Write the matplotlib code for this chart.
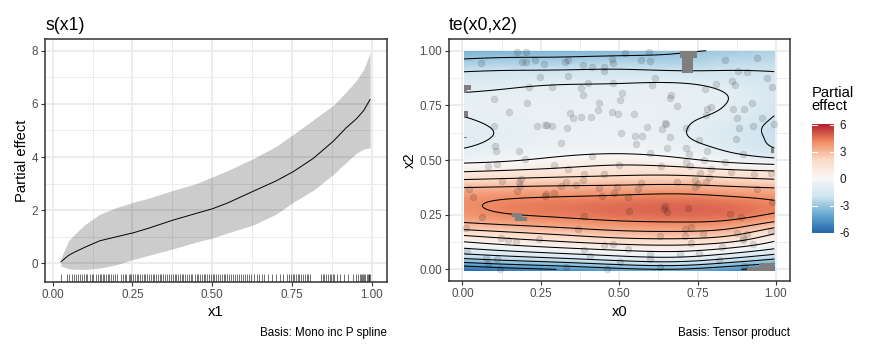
import numpy as np
import matplotlib
matplotlib.use('Agg')
import matplotlib.pyplot as plt
from matplotlib.colors import LinearSegmentedColormap, Normalize
from matplotlib.patches import Rectangle

plt.rcParams['font.family'] = ['Liberation Sans', 'DejaVu Sans']

# ---- s(x1): fitted smooth with credible band ----
x1 = [0.026, 0.05, 0.065, 0.1, 0.148, 0.2, 0.253, 0.3, 0.378, 0.45, 0.5,
      0.55, 0.63, 0.7, 0.754, 0.817, 0.88, 0.92, 0.953, 0.975, 0.995]
fit = [0.06, 0.3, 0.4, 0.6, 0.85, 1.0, 1.15, 1.32, 1.63, 1.88, 2.05,
       2.28, 2.72, 3.1, 3.45, 3.95, 4.6, 5.1, 5.45, 5.75, 6.17]
upper = [0.2, 0.85, 1.05, 1.45, 1.85, 2.1, 2.3, 2.45, 2.75, 3.0, 3.25,
         3.5, 3.95, 4.4, 4.85, 5.4, 5.95, 6.45, 6.9, 7.3, 7.92]
lower = [-0.1, -0.2, -0.22, -0.23, -0.18, -0.05, 0.15, 0.3, 0.55, 0.8, 0.95,
         1.15, 1.45, 1.85, 2.3, 2.75, 3.35, 3.8, 4.15, 4.3, 4.35]

rug_x1 = [0.026, 0.044, 0.051, 0.060, 0.066, 0.072, 0.079, 0.086, 0.093, 0.099,
          0.104, 0.109, 0.116, 0.122, 0.128, 0.135, 0.141, 0.147, 0.152, 0.158,
          0.161, 0.167, 0.173, 0.178, 0.184, 0.190, 0.197, 0.201, 0.215, 0.221,
          0.226, 0.231, 0.238, 0.242, 0.247, 0.252, 0.259, 0.263, 0.268, 0.274,
          0.279, 0.286, 0.291, 0.296, 0.303, 0.309, 0.314, 0.319, 0.325, 0.331,
          0.336, 0.340, 0.347, 0.352, 0.358, 0.365, 0.371, 0.376, 0.382, 0.388,
          0.393, 0.399, 0.404, 0.409, 0.416, 0.422, 0.427, 0.433, 0.438, 0.445,
          0.451, 0.456, 0.462, 0.467, 0.473, 0.479, 0.485, 0.490, 0.496, 0.502,
          0.507, 0.513, 0.519, 0.524, 0.530, 0.537, 0.541, 0.548, 0.553, 0.559,
          0.566, 0.571, 0.577, 0.583, 0.590, 0.596, 0.603, 0.610, 0.616, 0.623,
          0.631, 0.640, 0.647, 0.655, 0.664, 0.676, 0.689, 0.700, 0.712, 0.723,
          0.735, 0.741, 0.746, 0.752, 0.757, 0.762, 0.768, 0.773, 0.779, 0.784,
          0.790, 0.796, 0.801, 0.807, 0.842, 0.847, 0.852, 0.857, 0.862, 0.868,
          0.873, 0.878, 0.883, 0.890, 0.902, 0.913, 0.925, 0.940, 0.952, 0.958,
          0.962, 0.966, 0.970, 0.973, 0.977, 0.980, 0.984, 0.987, 0.990, 0.993,
          0.995]

# ---- te(x0,x2): partial effect read on a coarse grid ----
x0_grid = [0.0, 0.12, 0.3, 0.5, 0.7, 0.85, 1.0]
x2_grid = [0.0, 0.05, 0.1, 0.15, 0.2, 0.25, 0.3, 0.35, 0.4, 0.45, 0.5,
           0.55, 0.6, 0.65, 0.7, 0.75, 0.8, 0.85, 0.9, 0.95, 1.0]
col_000 = [-6.0, -3.0, -0.9, 0.8, 2.6, 3.6, 3.85, 3.5, 2.3, 0.9, -0.3,
           -0.98, -1.15, -1.15, -1.0, -0.85, -0.95, -1.35, -1.95, -2.8, -3.6]
col_012 = [-5.5, -2.6, -0.5, 1.2, 2.85, 3.9, 4.1, 3.6, 2.4, 1.05, -0.15,
           -0.75, -0.95, -0.95, -0.85, -0.8, -0.9, -1.2, -1.85, -2.7, -3.5]
col_030 = [-5.0, -2.1, 0.0, 1.7, 3.2, 4.15, 4.3, 3.7, 2.55, 1.3, 0.25,
           -0.45, -0.7, -0.75, -0.75, -0.75, -0.85, -1.05, -1.8, -2.65, -3.5]
col_050 = [-4.3, -1.5, 0.45, 2.2, 3.55, 4.4, 4.5, 3.8, 2.65, 1.55, 0.55,
           -0.3, -0.55, -0.65, -0.7, -0.75, -0.85, -1.0, -1.75, -2.55, -3.4]
col_070 = [-4.1, -1.3, 0.6, 2.3, 3.65, 4.5, 4.6, 3.9, 2.7, 1.5, 0.2,
           -0.6, -0.92, -0.95, -0.9, -0.84, -0.84, -0.98, -1.85, -2.6, -3.1]
col_085 = [-4.8, -2.0, 0.1, 1.9, 3.4, 4.4, 4.45, 3.7, 2.5, 1.2, -0.3,
           -1.15, -1.45, -1.45, -1.2, -1.04, -1.02, -1.3, -1.9, -2.35, -2.9]
col_100 = [-5.5, -2.9, -0.85, 0.55, 2.3, 3.85, 4.1, 3.5, 2.3, 1.0, -0.7,
           -1.97, -2.2, -2.25, -2.05, -1.8, -1.7, -1.8, -1.98, -2.3, -2.6]

# observations shown on the surface
pts_x0 = [0.173, 0.203, 0.189, 0.203, 0.230, 0.259, 0.326, 0.338, 0.383, 0.413,
          0.453, 0.452, 0.477, 0.479, 0.517, 0.570, 0.594, 0.599, 0.838, 0.941,
          0.059, 0.246, 0.338, 0.400, 0.379, 0.479, 0.604, 0.613, 0.879, 0.907,
          0.973, 0.860, 0.868, 0.810, 0.211, 0.285, 0.774, 0.102, 0.205, 0.147,
          0.383, 0.434, 0.432, 0.501, 0.509, 0.666, 0.661, 0.684, 0.478, 0.495,
          0.546, 0.344, 0.354, 0.379, 0.411, 0.780, 0.793, 0.862, 0.897, 0.923,
          0.876, 0.957, 0.989, 0.778, 0.099, 0.237, 0.262, 0.269, 0.285, 0.333,
          0.590, 0.645, 0.650, 0.637, 0.714, 0.883, 0.926, 0.993, 0.506, 0.551,
          0.574, 0.661, 0.756, 0.872, 0.315, 0.554, 0.652, 0.712, 0.103, 0.106,
          0.181, 0.200, 0.413, 0.598, 0.722, 0.780, 0.894, 0.082, 0.110, 0.293,
          0.336, 0.498, 0.634, 0.714, 0.726, 0.770, 0.838, 0.857, 0.929, 0.985,
          0.794, 0.389, 0.452, 0.788, 0.759, 0.742, 0.127, 0.179, 0.187, 0.331,
          0.384, 0.570, 0.683, 0.751, 0.777, 0.021, 0.033, 0.173, 0.182, 0.262,
          0.267, 0.293, 0.315, 0.361, 0.437, 0.446, 0.485, 0.493, 0.527, 0.559,
          0.743, 0.941, 0.989, 0.645, 0.643, 0.652, 0.721, 0.530, 0.389, 0.063,
          0.855, 0.890, 0.012, 0.370, 0.709, 0.728, 0.876, 0.907, 0.984, 0.766,
          0.629, 0.711, 0.122, 0.144, 0.172, 0.245, 0.894, 0.895, 0.730, 0.452,
          0.480, 0.529, 0.388, 0.926, 0.828, 0.014, 0.076, 0.110, 0.599, 0.597,
          0.695, 0.756, 0.407, 0.080, 0.120, 0.329, 0.501, 0.460, 0.629, 0.820,
          0.897]
pts_x2 = [0.995, 0.995, 0.950, 0.947, 0.957, 0.939, 0.947, 0.957, 0.934, 0.924,
          0.927, 0.907, 0.962, 0.942, 0.988, 0.957, 0.995, 0.954, 0.956, 0.965,
          0.942, 0.878, 0.884, 0.851, 0.828, 0.851, 0.843, 0.873, 0.909, 0.902,
          0.873, 0.863, 0.841, 0.848, 0.832, 0.832, 0.823, 0.777, 0.759, 0.720,
          0.796, 0.759, 0.729, 0.774, 0.805, 0.797, 0.782, 0.747, 0.718, 0.709,
          0.709, 0.713, 0.691, 0.695, 0.695, 0.732, 0.741, 0.732, 0.735, 0.759,
          0.691, 0.691, 0.832, 0.706, 0.655, 0.655, 0.659, 0.659, 0.654, 0.646,
          0.649, 0.668, 0.663, 0.640, 0.646, 0.645, 0.654, 0.663, 0.622, 0.608,
          0.608, 0.604, 0.591, 0.595, 0.576, 0.572, 0.555, 0.555, 0.566, 0.543,
          0.541, 0.503, 0.518, 0.530, 0.526, 0.543, 0.527, 0.474, 0.480, 0.477,
          0.459, 0.476, 0.471, 0.491, 0.471, 0.500, 0.492, 0.444, 0.436, 0.439,
          0.457, 0.436, 0.436, 0.421, 0.439, 0.409, 0.402, 0.401, 0.413, 0.399,
          0.407, 0.396, 0.399, 0.392, 0.398, 0.366, 0.332, 0.357, 0.383, 0.335,
          0.343, 0.348, 0.381, 0.384, 0.370, 0.335, 0.348, 0.378, 0.332, 0.369,
          0.377, 0.369, 0.308, 0.291, 0.277, 0.262, 0.279, 0.265, 0.244, 0.241,
          0.252, 0.238, 0.191, 0.183, 0.186, 0.195, 0.165, 0.162, 0.175, 0.160,
          0.155, 0.155, 0.142, 0.134, 0.127, 0.140, 0.142, 0.134, 0.123, 0.111,
          0.114, 0.095, 0.091, 0.116, 0.104, 0.085, 0.050, 0.049, 0.070, 0.049,
          0.069, 0.073, 0.061, 0.027, 0.000, 0.012, 0.034, 0.000, 0.012, 0.044,
          0.017]

# cells excluded as too far from data (x0 from, x0 to, x2 from, x2 to)
too_far = [(0.693, 0.748, 0.965, 1.0), (0.700, 0.737, 0.90, 0.965),
           (0.005, 0.027, 0.820, 0.843), (0.005, 0.015, 0.805, 0.820),
           (0.005, 0.019, 0.698, 0.724), (0.005, 0.016, 0.600, 0.607),
           (0.157, 0.190, 0.241, 0.256), (0.168, 0.205, 0.223, 0.241),
           (0.985, 0.995, 0.534, 0.553),
           (0.907, 0.995, -0.005, 0.012), (0.945, 0.995, 0.012, 0.023),
           (0.960, 0.995, 0.023, 0.030)]


def natural_spline(xk, yk, xq):
    # natural cubic spline through the rows of yk, evaluated at xq
    xk = np.asarray(xk, float)
    yk = np.asarray(yk, float)
    n = len(xk)
    h = np.diff(xk)
    A = np.zeros((n, n))
    rhs = np.zeros_like(yk)
    A[0, 0] = A[-1, -1] = 1
    for i in range(1, n - 1):
        A[i, i - 1] = h[i - 1]
        A[i, i] = 2 * (h[i - 1] + h[i])
        A[i, i + 1] = h[i]
        rhs[i] = 6 * ((yk[i + 1] - yk[i]) / h[i] - (yk[i] - yk[i - 1]) / h[i - 1])
    M = np.linalg.solve(A, rhs)
    i = np.clip(np.searchsorted(xk, xq) - 1, 0, n - 2)
    hi = h[i][:, None]
    a = (xk[i + 1] - xq)[:, None]
    b = (xq - xk[i])[:, None]
    return (M[i] * a ** 3 / (6 * hi) + M[i + 1] * b ** 3 / (6 * hi)
            + (yk[i] / hi - M[i] * hi / 6) * a
            + (yk[i + 1] / hi - M[i + 1] * hi / 6) * b)


W, H = 874, 354
fig = plt.figure(figsize=(W / 100, H / 100), dpi=100)


def box(l, t, r, b):
    return [l / W, 1 - b / H, (r - l) / W, (b - t) / H]


def style(ax):
    for s in ax.spines.values():
        s.set_color('#333333')
        s.set_linewidth(1.1)
    ax.tick_params(length=2.6, width=0.8, color='#333333', labelsize=8.4,
                   labelcolor='#4d4d4d', pad=2.5)
    ax.tick_params(which='minor', length=0)
    ax.grid(True, which='major', color='#ebebeb', lw=1.3)
    ax.grid(True, which='minor', color='#ebebeb', lw=0.65)
    ax.set_axisbelow(True)


ticks01 = [0, 0.25, 0.5, 0.75, 1.0]
labs01 = ['0.00', '0.25', '0.50', '0.75', '1.00']
minor01 = [0.125, 0.375, 0.625, 0.875]

# left panel
ax1 = fig.add_axes(box(45.3, 39.3, 386.7, 281.7))
style(ax1)
ax1.fill_between(x1, lower, upper, color='black', alpha=0.2, lw=0)
ax1.plot(x1, fit, color='black', lw=0.7)
ax1.vlines(rug_x1, 0, 0.032, transform=ax1.get_xaxis_transform(),
           colors='black', alpha=0.65, lw=0.6)
ax1.set_xlim(-0.023, 1.047)
ax1.set_ylim(-0.69, 8.43)
ax1.set_xticks(ticks01, labs01)
ax1.set_xticks(minor01, minor=True)
ax1.set_yticks([0, 2, 4, 6, 8])
ax1.set_yticks([1, 3, 5, 7], minor=True)

# right panel
cmap = LinearSegmentedColormap.from_list(
    'rdbu', ['#2166AC', '#67A9CF', '#D1E5F0', '#F7F7F7',
             '#FDDBC7', '#EF8A62', '#B2182B'])
lim = 6.05
norm = Normalize(-lim, lim)

zgrid = np.column_stack([col_000, col_012, col_030, col_050,
                         col_070, col_085, col_100])
xs = np.linspace(0.005, 0.995, 240)
ys = np.linspace(0.0, 1.0, 240)
ZS = natural_spline(x0_grid, natural_spline(x2_grid, zgrid, ys).T, xs).T
XS, YS = np.meshgrid(xs, ys)

ax2 = fig.add_axes(box(449, 39.3, 790, 281))
style(ax2)
ax2.imshow(ZS, origin='lower', extent=[0.005, 0.995, -0.005, 1.0],
           cmap=cmap, norm=norm, aspect='auto', interpolation='bilinear',
           zorder=1)
ax2.contour(XS, YS, ZS, levels=np.arange(-6, 7), colors='black',
            linewidths=0.75, linestyles='solid', zorder=2)
for a, b, c, d in too_far:
    ax2.add_patch(Rectangle((a, c), b - a, d - c, color='#7f7f7f', lw=0,
                            zorder=3))
ax2.scatter(pts_x0, pts_x2, s=24, c='#000000', alpha=0.13,
            edgecolors='#000000', linewidths=0.4, zorder=4)
ax2.set_xlim(-0.043, 1.045)
ax2.set_ylim(-0.053, 1.052)
ax2.set_xticks(ticks01, labs01)
ax2.set_xticks(minor01, minor=True)
ax2.set_yticks(ticks01, labs01)
ax2.set_yticks(minor01, minor=True)

# colour bar
cax = fig.add_axes(box(812.3, 124.3, 834.3, 233.3))
cax.imshow(np.linspace(-lim, lim, 256)[:, None], origin='lower',
           extent=[0, 1, -lim, lim], cmap=cmap, norm=norm, aspect='auto')
cb_ticks = [-6, -3, 0, 3, 6]
for v in cb_ticks:
    cax.plot([0, 0.2], [v, v], color='white', lw=0.8)
    cax.plot([0.8, 1.0], [v, v], color='white', lw=0.8)
cax.set_xlim(0, 1)
cax.set_ylim(-lim, lim)
for s in cax.spines.values():
    s.set_visible(False)
cax.set_xticks([])
cax.yaxis.tick_right()
cax.set_yticks(cb_ticks, [str(v) for v in cb_ticks])
cax.tick_params(length=0, pad=4, labelsize=8.4, labelcolor='#1a1a1a')

fig.text(811.5 / W, 1 - 86 / H, 'Partial\neffect', ha='left', va='top',
         fontsize=10.6, linespacing=0.95)

# titles, axis titles and captions
fig.text(45.3 / W, 1 - 25 / H, 's(x1)', fontsize=12.7, va='center')
fig.text(449 / W, 1 - 25 / H, 'te(x0,x2)', fontsize=12.7, va='center')
fig.text(216 / W, 1 - 311.5 / H, 'x1', fontsize=10.6, ha='center', va='center')
fig.text(619.5 / W, 1 - 311.5 / H, 'x0', fontsize=10.6, ha='center', va='center')
fig.text(21.7 / W, 1 - 160.5 / H, 'Partial effect', fontsize=10.6, rotation=90,
         ha='center', va='center')
fig.text(410 / W, 1 - 160 / H, 'x2', fontsize=10.6, rotation=90,
         ha='center', va='center')
fig.text(386.7 / W, 1 - 333 / H, 'Basis: Mono inc P spline', fontsize=8.4,
         ha='right', va='center')
fig.text(790 / W, 1 - 333 / H, 'Basis: Tensor product', fontsize=8.4,
         ha='right', va='center')

fig.savefig('out.png', dpi=100)
